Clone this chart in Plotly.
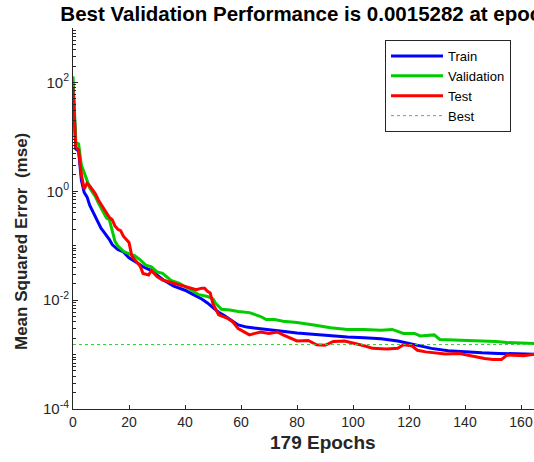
import plotly.graph_objects as go

# ---------------- data ----------------
train_epochs = [0, 1, 2, 3, 4, 5, 6, 8, 9, 10, 11, 12, 13, 14, 15, 16, 18, 20, 23, 25, 28, 30,
                32, 36, 38, 40, 43, 46, 48, 50, 52, 54, 56, 59, 62, 68, 74, 80, 86, 92, 98,
                104, 110, 116, 122, 128, 134, 140, 146, 152, 158, 165, 172, 179]
train_mse = [95, 6.0, 5.5, 1.6, 0.95, 0.79, 0.55, 0.33, 0.27, 0.21, 0.18, 0.155, 0.13, 0.105,
             0.095, 0.085, 0.077, 0.060, 0.048, 0.041, 0.035, 0.029, 0.024, 0.018, 0.0166,
             0.0152, 0.0126, 0.0105, 0.0089, 0.0074, 0.0060, 0.0052, 0.0044, 0.0035, 0.0032,
             0.0029, 0.0027, 0.0025, 0.00235, 0.0022, 0.0021, 0.00204, 0.00195, 0.00178,
             0.00150, 0.00130, 0.00118, 0.00112, 0.00108, 0.00105, 0.00104, 0.00102,
             0.00100, 0.00098]

val_epochs = [0, 1, 2, 3, 4, 5, 6, 7, 8, 9, 10, 11, 12, 13, 14, 15, 16, 18, 20, 22, 24, 26,
              28, 30, 32, 35, 38, 42, 45, 48, 50, 51, 53, 56, 59, 63, 67, 69, 72, 75, 80, 86,
              92, 98, 104, 110, 114, 118, 122, 124, 129, 131, 135, 140, 146, 151, 155, 165,
              172, 179]
val_mse = [130, 8.0, 7.4, 3.0, 2.2, 1.6, 1.15, 0.95, 0.80, 0.62, 0.48, 0.40, 0.32, 0.30,
           0.19, 0.12, 0.10, 0.079, 0.071, 0.066, 0.055, 0.044, 0.041, 0.033, 0.031, 0.023,
           0.0204, 0.0158, 0.0126, 0.0117, 0.0105, 0.0087, 0.0068, 0.0066, 0.0062, 0.0059,
           0.0050, 0.0044, 0.0044, 0.0041, 0.0039, 0.0035, 0.0031, 0.0029, 0.0029, 0.0028,
           0.0029, 0.00245, 0.00245, 0.0022, 0.0023, 0.0019, 0.00186, 0.00186, 0.00178,
           0.00174, 0.00166, 0.00162, 0.00158, 0.0015282]

test_epochs = [0, 1, 2, 3, 4, 5, 6, 7, 8, 9, 10, 11, 12, 13, 14, 15, 16, 17, 18, 19, 20, 21,
               23, 24, 25, 27, 28, 30, 32, 36, 40, 44, 46, 47, 48, 49, 50, 52, 55, 57, 59, 61,
               63, 65, 67, 70, 73, 75, 77, 80, 84, 87, 90, 93, 97, 100, 104, 107, 112, 116,
               118, 121, 123, 126, 130, 133, 138, 141, 144, 147, 150, 153, 155, 158, 161, 165,
               172, 179]
test_mse = [83, 6.3, 5.8, 2.0, 1.1, 1.4, 1.25, 1.05, 0.90, 0.70, 0.58, 0.47, 0.41, 0.33, 0.30,
            0.23, 0.20, 0.19, 0.15, 0.13, 0.115, 0.065, 0.050, 0.042, 0.031, 0.029, 0.035,
            0.027, 0.0234, 0.0204, 0.0178, 0.0155, 0.0166, 0.0166, 0.0145, 0.0135, 0.0085,
            0.0054, 0.0047, 0.0040, 0.0030, 0.0026, 0.0023, 0.00245, 0.0026, 0.00245, 0.0026,
            0.0023, 0.0021, 0.00178, 0.00182, 0.00151, 0.00148, 0.00174, 0.00178, 0.00165,
            0.00145, 0.0013, 0.00126, 0.0013, 0.00151, 0.00145, 0.0012, 0.00112, 0.00105,
            0.00102, 0.00105, 0.00098, 0.00089, 0.00085, 0.00081, 0.00081, 0.00098, 0.00098,
            0.00095, 0.00102, 0.00100, 0.00098]

best_epochs = [0, 179]
best_perf = 0.0015282
n_epochs = 179

x_ticks = [0, 20, 40, 60, 80, 100, 120, 140, 160]
y_major = [1e-4, 1e-2, 1e0, 1e2]
y_major_text = ["10<sup>-4</sup>", "10<sup>-2</sup>", "10<sup>0</sup>", "10<sup>2</sup>"]

title_text = "Best Validation Performance is 0.0015282 at epoch 179"
x_label = "179 Epochs"
y_label = "Mean Squared Error\u00a0\u00a0(mse)"

# ---------------- figure ----------------
AX = "#262626"
FONT = "Arial, Liberation Sans, sans-serif"

y_minor = []
for k in range(-4, 3):
    for m in range(1, 10):
        v = m * 10.0 ** k
        if m == 1 and k % 2 == 0:
            continue
        y_minor.append(v)
y_minor.append(1e3)

fig = go.Figure()
fig.add_trace(go.Scatter(x=train_epochs, y=train_mse, mode="lines", name="Train",
                         line=dict(color="#0000FF", width=3)))
fig.add_trace(go.Scatter(x=val_epochs, y=val_mse, mode="lines", name="Validation",
                         line=dict(color="#00CC00", width=3)))
fig.add_trace(go.Scatter(x=test_epochs, y=test_mse, mode="lines", name="Test",
                         line=dict(color="#FF0000", width=3)))
fig.add_trace(go.Scatter(x=best_epochs, y=[best_perf, best_perf], mode="lines", name="Best",
                         line=dict(color="#33CC33", width=1, dash="dot")))

W, H = 534, 462
L, T, B = 73, 28, 53
x_max = (W - L) / 2.8

fig.update_layout(
    width=W, height=H,
    margin=dict(l=L, r=0, t=T, b=B),
    paper_bgcolor="white", plot_bgcolor="white",
    font=dict(family=FONT, color=AX, size=14),
    title=dict(text=title_text, x=327 / W, xref="container", xanchor="center",
               y=1 - 14 / H, yref="container", yanchor="middle",
               font=dict(family=FONT, size=20.5, weight="bold", color="black")),
    showlegend=True,
    legend=dict(x=(385 - L) / (W - L), y=(409 - 40) / (409 - T), xanchor="left", yanchor="top",
                bgcolor="white", bordercolor=AX, borderwidth=1,
                font=dict(family=FONT, size=13, color="black"),
                itemwidth=52, tracegroupgap=0),
    xaxis=dict(range=[0, x_max], showgrid=False, zeroline=False, showline=True,
               linecolor=AX, linewidth=1, ticks="inside", ticklen=4, tickcolor=AX,
               tickvals=x_ticks, tickfont=dict(size=14, color=AX, family=FONT)),
    yaxis=dict(type="log", range=[-4, 3], showgrid=False, zeroline=False, showline=True,
               linecolor=AX, linewidth=1, ticks="inside", ticklen=5, tickcolor=AX,
               tickvals=y_major, ticktext=y_major_text,
               tickfont=dict(size=15, color=AX, family=FONT),
               minor=dict(tickvals=y_minor, ticks="inside", ticklen=3, tickcolor=AX,
                          showgrid=False)),
    annotations=[
        dict(text=x_label, xref="paper", yref="paper",
             x=(323 - L) / (W - L), y=(409 - 442) / (409 - T),
             xanchor="center", yanchor="middle", showarrow=False,
             font=dict(family=FONT, size=19, weight="bold", color=AX)),
        dict(text=y_label, xref="paper", yref="paper",
             x=(21 - L) / (W - L), y=(409 - 242) / (409 - T), textangle=-90,
             xanchor="center", yanchor="middle", showarrow=False,
             font=dict(family=FONT, size=17, weight="bold", color=AX)),
    ],
)

fig.write_html("out.html")
